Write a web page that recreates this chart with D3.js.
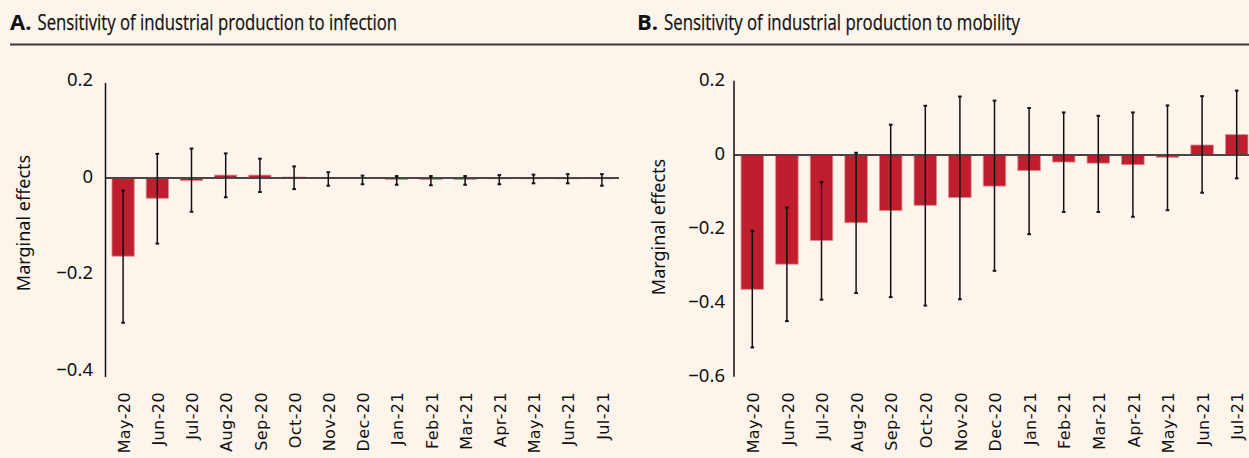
<!DOCTYPE html>
<html>
<head>
<meta charset="utf-8">
<script src="https://cdn.jsdelivr.net/npm/d3@7"></script>
<style>
  html, body { margin: 0; padding: 0; background: #fdf5ec; }
  svg { display: block; }
</style>
</head>
<body>
<svg id="chart" width="1249" height="458"></svg>
<script>
const months = ["May-20","Jun-20","Jul-20","Aug-20","Sep-20","Oct-20","Nov-20","Dec-20","Jan-21","Feb-21","Mar-21","Apr-21","May-21","Jun-21","Jul-21"];

// Panel A: infection
const infectionEffect = [-0.162,-0.042,-0.005,0.006,0.006,0.002,0.001,0.001,-0.003,-0.003,-0.003,-0.001,0.000,0.000,0.000];
const infectionUpper  = [-0.026,0.050,0.061,0.051,0.040,0.024,0.012,0.005,0.004,0.004,0.004,0.006,0.007,0.008,0.008];
const infectionLower  = [-0.300,-0.136,-0.070,-0.040,-0.029,-0.023,-0.016,-0.013,-0.014,-0.015,-0.014,-0.013,-0.011,-0.011,-0.016];
const infectionTicks  = [0.2, 0, -0.2, -0.4];

// Panel B: mobility
const mobilityEffect = [-0.363,-0.295,-0.231,-0.183,-0.150,-0.136,-0.115,-0.084,-0.042,-0.019,-0.022,-0.026,-0.006,0.027,0.055];
const mobilityUpper  = [-0.205,-0.142,-0.073,0.006,0.082,0.133,0.158,0.147,0.127,0.115,0.106,0.115,0.134,0.159,0.174];
const mobilityLower  = [-0.520,-0.449,-0.391,-0.373,-0.384,-0.407,-0.390,-0.313,-0.214,-0.154,-0.154,-0.167,-0.149,-0.102,-0.063];
const mobilityTicks  = [0.2, 0, -0.2, -0.4, -0.6];

const titles = [
  {bold: "A.", rest: "Sensitivity of industrial production to infection"},
  {bold: "B.", rest: "Sensitivity of industrial production to mobility"}
];

const svg = d3.select("#chart");
const fmt = v => v === 0 ? "0" : (v < 0 ? "\u2212" + Math.abs(v).toFixed(1) : v.toFixed(1));

// Title separator
svg.append("line").attr("x1", 10).attr("x2", 1249).attr("y1", 44.5).attr("y2", 44.5)
  .attr("stroke", "#3d3a38").attr("stroke-width", 2);

function drawTitle(t, x, endX) {
  const font = "'Liberation Sans Narrow', 'Open Sans', sans-serif";
  const b = svg.append("text").attr("x", x).attr("y", 29.5)
    .attr("font-family", font).attr("font-size", 22).attr("font-weight", "bold")
    .attr("fill", "#111").text(t.bold);
  const bw = b.node().getComputedTextLength();
  const rx = x + bw + 6;
  svg.append("text").attr("x", rx).attr("y", 29.5)
    .attr("font-family", font).attr("font-size", 22).attr("fill", "#111")
    .attr("stroke", "#111").attr("stroke-width", 0.25)
    .attr("textLength", endX - rx).attr("lengthAdjust", "spacingAndGlyphs")
    .text(t.rest);
}
drawTitle(titles[0], 10, 397);
drawTitle(titles[1], 637, 1020);

function panel(cfg) {
  const g = svg.append("g");
  const x = d3.scaleBand().domain(months).range(cfg.xRange).paddingInner(0.35).paddingOuter(0.175);
  const y = d3.scaleLinear().domain(cfg.domain).range(cfg.yRange);

  // Y axis label
  g.append("text")
    .attr("transform", `translate(${cfg.labelX},${cfg.labelY}) rotate(-90)`)
    .attr("text-anchor", "middle")
    .attr("font-family", "'Noto Sans', sans-serif").attr("font-size", 18).attr("fill", "#111")
    .text("Marginal effects");

  // Y axis tick labels
  const yAxis = d3.axisLeft(y).tickValues(cfg.ticks).tickFormat(fmt).tickSize(0).tickPadding(0);
  const ay = g.append("g").attr("transform", `translate(${cfg.labelRight},-1.5)`).call(yAxis);
  ay.select(".domain").remove();
  ay.attr("font-size", null).attr("font-family", null);
  ay.selectAll("text").attr("font-family", "'Noto Sans', sans-serif").attr("font-size", 18.5).attr("fill", "#111");

  // Bars
  g.selectAll("rect.bar").data(months).join("rect").attr("class", "bar")
    .attr("x", d => x(d))
    .attr("width", x.bandwidth())
    .attr("y", (d, i) => y(Math.max(0, cfg.effect[i])))
    .attr("height", (d, i) => Math.max(0.8, Math.abs(y(cfg.effect[i]) - y(0))))
    .attr("fill", "#be1e2d")
    .attr("stroke", "#e3878d").attr("stroke-width", 0.8);

  // Zero line
  g.append("line").attr("x1", cfg.axisX).attr("x2", cfg.xRange[1])
    .attr("y1", y(0)).attr("y2", y(0)).attr("stroke", "#4a4644").attr("stroke-width", 2);

  // Y axis line
  g.append("line").attr("x1", cfg.axisX).attr("x2", cfg.axisX)
    .attr("y1", cfg.axisTop).attr("y2", cfg.axisBottom).attr("stroke", "#111").attr("stroke-width", 1.5);

  // Error bars
  const eb = g.selectAll("g.err").data(months).join("g").attr("class", "err");
  const cx = d => x(d) + x.bandwidth() / 2;
  eb.append("line").attr("x1", cx).attr("x2", cx)
    .attr("y1", (d, i) => y(cfg.upper[i])).attr("y2", (d, i) => y(cfg.lower[i]))
    .attr("stroke", "#111").attr("stroke-width", 1.5);
  eb.append("line").attr("x1", d => cx(d) - 1.8).attr("x2", d => cx(d) + 1.8)
    .attr("y1", (d, i) => y(cfg.upper[i])).attr("y2", (d, i) => y(cfg.upper[i]))
    .attr("stroke", "#111").attr("stroke-width", 2);
  eb.append("line").attr("x1", d => cx(d) - 1.8).attr("x2", d => cx(d) + 1.8)
    .attr("y1", (d, i) => y(cfg.lower[i])).attr("y2", (d, i) => y(cfg.lower[i]))
    .attr("stroke", "#111").attr("stroke-width", 2);

  // X labels
  g.selectAll("text.xl").data(months).join("text").attr("class", "xl")
    .attr("transform", d => `translate(${cx(d) + 1},392) rotate(-90)`)
    .attr("text-anchor", "end").attr("dy", "0.36em")
    .attr("font-family", "'DejaVu Sans', sans-serif").attr("font-size", 16)
    .attr("letter-spacing", 0.4).attr("fill", "#111")
    .text(d => d);
}

panel({
  xRange: [106, 619], domain: [-0.4, 0.2], yRange: [371, 81.5],
  ticks: infectionTicks, effect: infectionEffect, upper: infectionUpper, lower: infectionLower,
  axisX: 105.5, axisTop: 83, axisBottom: 377, labelRight: 93, labelX: 30, labelY: 223
});
panel({
  xRange: [735, 1254], domain: [-0.6, 0.2], yRange: [377, 81],
  ticks: mobilityTicks, effect: mobilityEffect, upper: mobilityUpper, lower: mobilityLower,
  axisX: 734, axisTop: 80.7, axisBottom: 376.7, labelRight: 725, labelX: 665, labelY: 227
});
</script>
</body>
</html>
